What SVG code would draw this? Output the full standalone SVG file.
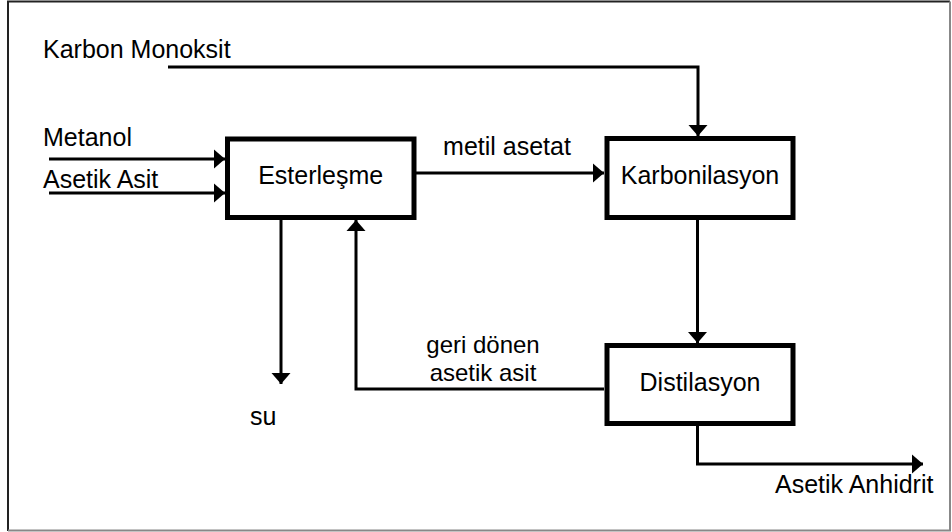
<svg xmlns="http://www.w3.org/2000/svg" width="952" height="532" viewBox="0 0 952 532">
  <style>
    .lbl { font-family: "Liberation Sans", Arial, sans-serif; font-size: 25px; fill: #000; }
    .mid { text-anchor: middle; }
    .tight { font-size: 24px; }
    .box { fill: #fff; stroke: #000; stroke-width: 5; }
    .flow { fill: none; stroke: #000; stroke-width: 3; marker-end: url(#head); }
  </style>
  <defs>
    <marker id="head" markerUnits="userSpaceOnUse" viewBox="0 -10 11 20" refX="11" refY="0" markerWidth="11" markerHeight="20" orient="auto">
      <path d="M0,-9.5 L11,0 L0,9.5 Z" fill="#000"/>
    </marker>
  </defs>

  <rect width="952" height="532" fill="#fff"/>
  <!-- page frame -->
  <g id="frame">
    <path d="M8,531 V1.5 H950" fill="none" stroke="#222" stroke-width="2"/>
    <path d="M950,1.5 V530.5 H8" fill="none" stroke="#888" stroke-width="2"/>
  </g>

  <!-- process streams -->
  <g id="connectors">
    <path class="flow" d="M168,67 H698 V136"/>
    <path class="flow" d="M49,159 H225"/>
    <path class="flow" d="M49,193 H225"/>
    <path class="flow" d="M416,173 H604"/>
    <path class="flow" d="M697.5,220 V343"/>
    <path class="flow" d="M281,220 V384"/>
    <path class="flow" d="M604,389 H356 V220"/>
    <path class="flow" d="M697.5,426 V464 H923"/>
  </g>

  <!-- stream labels -->
  <g id="labels">
    <text class="lbl" x="43" y="58">Karbon Monoksit</text>
    <text class="lbl" x="43" y="146">Metanol</text>
    <text class="lbl" x="43" y="188">Asetik Asit</text>
    <text class="lbl mid" x="507" y="155">metil asetat</text>
    <text class="lbl mid tight" x="483" y="353">geri dönen</text>
    <text class="lbl mid tight" x="483" y="381">asetik asit</text>
    <text class="lbl" x="250" y="425">su</text>
    <text class="lbl" x="775" y="493">Asetik Anhidrit</text>
  </g>

  <g id="esterlesme">
    <rect class="box" x="227.5" y="139" width="186.5" height="78.5"/>
    <text class="lbl mid" x="320.7" y="184">Esterleşme</text>
  </g>
  <g id="karbonilasyon">
    <rect class="box" x="607" y="138.5" width="186" height="79"/>
    <text class="lbl mid" x="700" y="184">Karbonilasyon</text>
  </g>
  <g id="distilasyon">
    <rect class="box" x="607" y="345.5" width="186" height="78"/>
    <text class="lbl mid" x="700" y="391">Distilasyon</text>
  </g>
</svg>
